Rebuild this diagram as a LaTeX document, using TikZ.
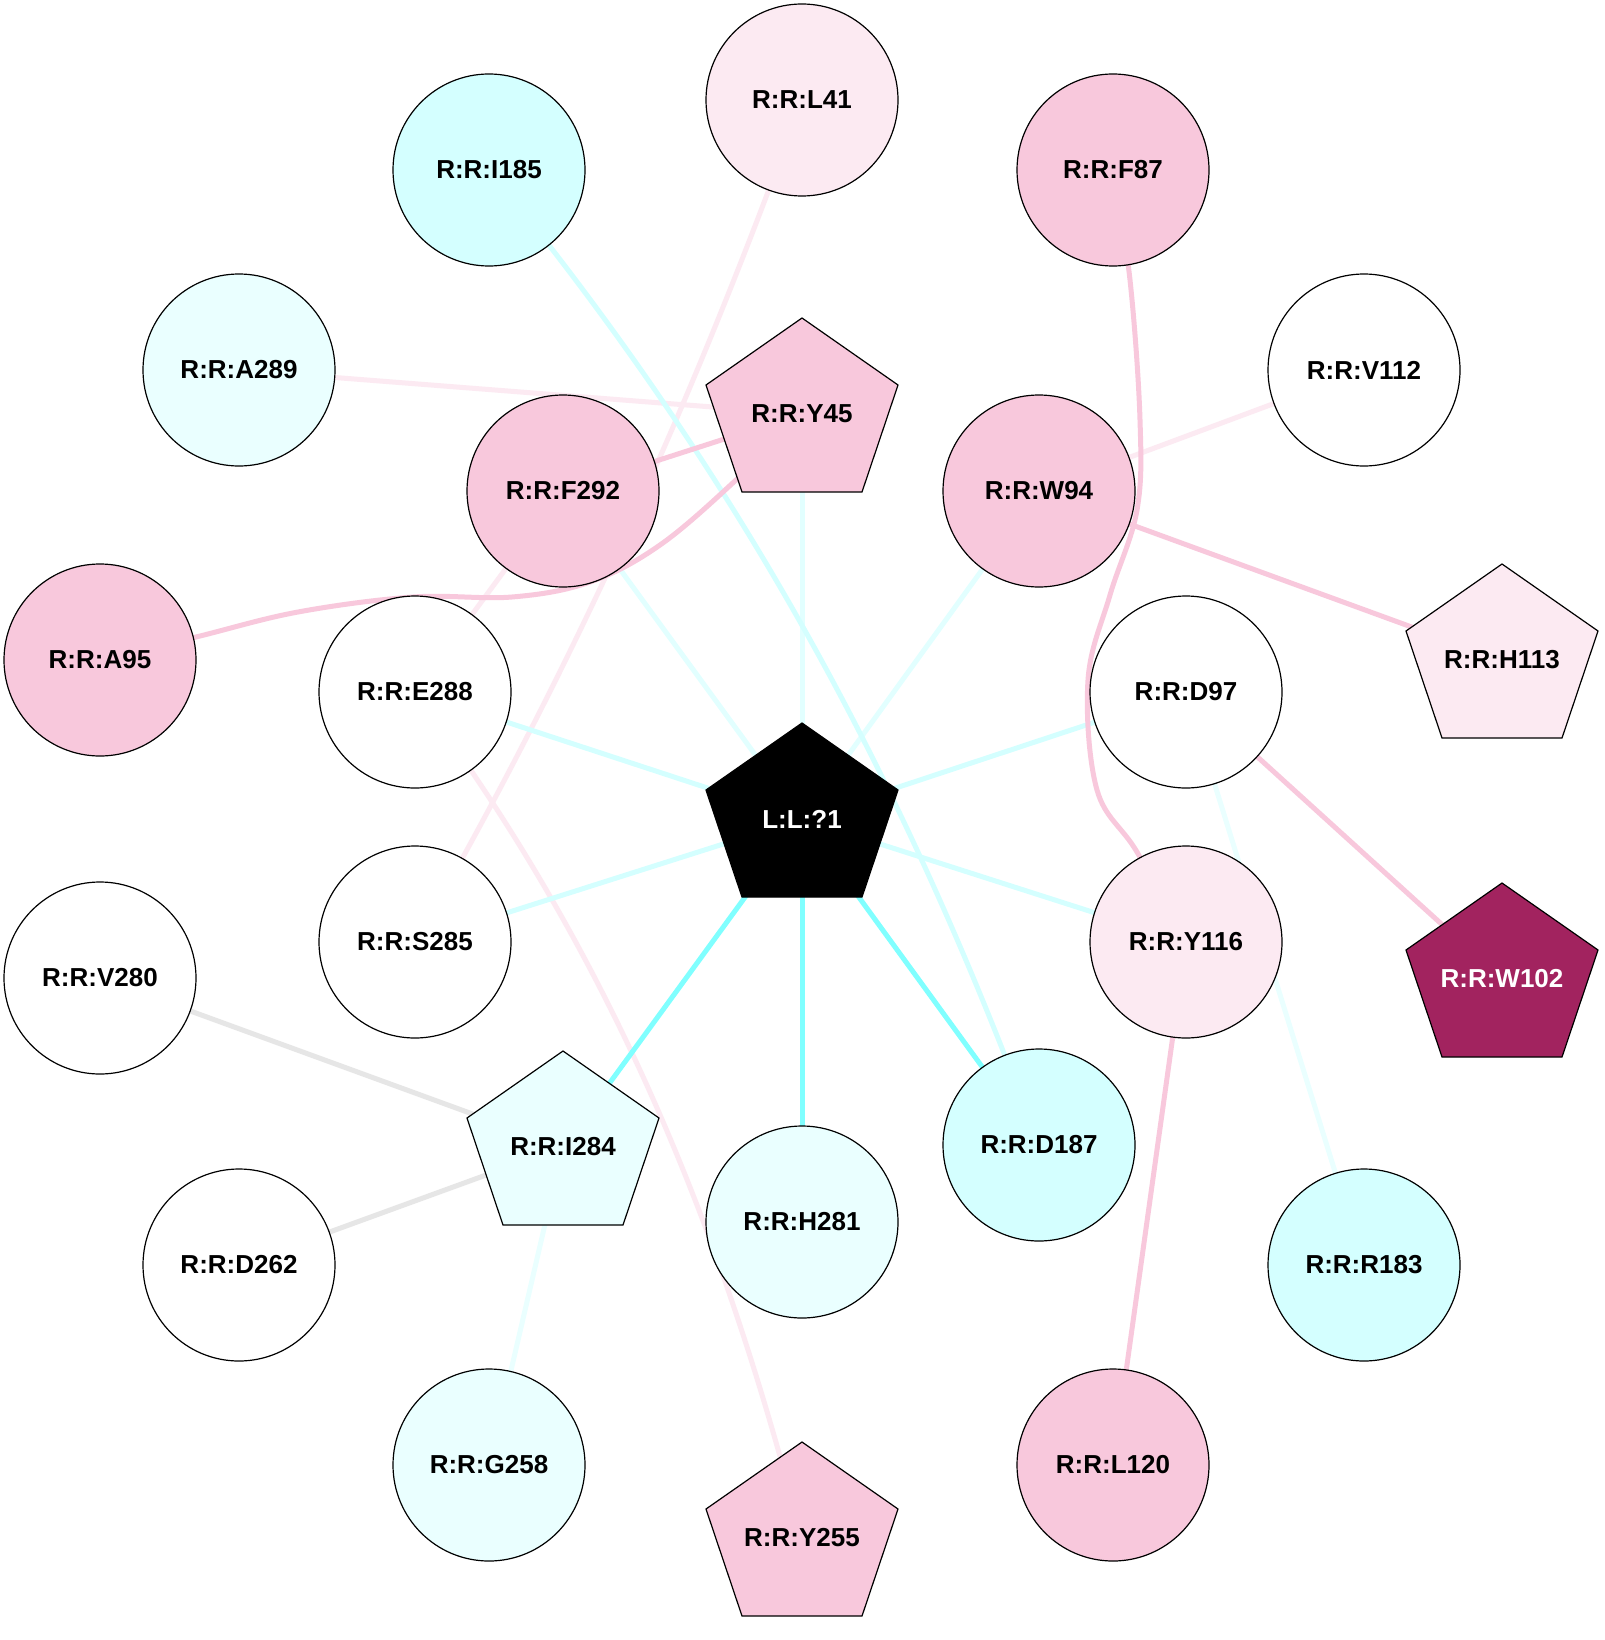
\documentclass[tikz,border=0pt]{standalone}
\usepackage{fontspec}
\setmainfont{Liberation Sans}
\pgfdeclarelayer{bg}
\pgfsetlayers{bg,main}
\definecolor{pk}{HTML}{F8C8DC}
\definecolor{lpk}{HTML}{FCEAF2}
\definecolor{cy}{HTML}{D4FFFF}
\definecolor{lcy}{HTML}{EAFFFF}
\definecolor{ecy}{HTML}{E2FFFF}
\definecolor{scy}{HTML}{80FFFF}
\definecolor{wine}{HTML}{A2235F}
\definecolor{gr}{HTML}{E6E6E6}
\tikzset{
  lblfont/.style={font=\fontsize{26}{30}\selectfont\bfseries},
  res/.style={circle, draw=black, line width=1.2pt, minimum size=192pt, inner sep=0pt, lblfont},
  lbl/.style={inner sep=0pt, lblfont},
  pentpath/.style={draw=black, line width=1.2pt},
  link/.style={line width=5pt},
}
\newcommand\pent[6]{%
  \filldraw[pentpath, fill=#4] (#2,#3-96) -- ++(96,67) -- ++(-36,107) -- ++(-120,0) -- ++(-36,-107) -- cycle;
  \node[lbl, text=#5] (#1) at (#2,#3) {#6};
}
\begin{document}
\begin{tikzpicture}[x=1pt, y=-1pt]
\useasboundingbox (0,0) rectangle (1604,1640);
% circles
\node[res, fill=lpk] (L41) at (802,100) {R:R:L41};
\node[res, fill=cy] (I185) at (489,170) {R:R:I185};
\node[res, fill=pk] (F87) at (1113,170) {R:R:F87};
\node[res, fill=lcy] (A289) at (239,370) {R:R:A289};
\node[res, fill=white] (V112) at (1364,370) {R:R:V112};
\node[res, fill=pk] (F292) at (563,491) {R:R:F292};
\node[res, fill=pk] (W94) at (1039,491) {R:R:W94};
\node[res, fill=pk] (A95) at (100,660) {R:R:A95};
\node[res, fill=white] (E288) at (415,692) {R:R:E288};
\node[res, fill=white] (D97) at (1186,692) {R:R:D97};
\node[res, fill=white] (S285) at (415,942) {R:R:S285};
\node[res, fill=lpk] (Y116) at (1186,942) {R:R:Y116};
\node[res, fill=white] (V280) at (100,978) {R:R:V280};
\node[res, fill=cy] (D187) at (1039,1145) {R:R:D187};
\node[res, fill=lcy] (H281) at (802,1222) {R:R:H281};
\node[res, fill=white] (D262) at (239,1265) {R:R:D262};
\node[res, fill=cy] (R183) at (1364,1265) {R:R:R183};
\node[res, fill=lcy] (G258) at (489,1465) {R:R:G258};
\node[res, fill=pk] (L120) at (1113,1465) {R:R:L120};
% pentagons
\pent{Y45}{802}{414}{pk}{black}{R:R:Y45}
\pent{H113}{1502}{660}{lpk}{black}{R:R:H113}
\pent{L1}{802}{819}{black}{white}{L:L:?1}
\pent{W102}{1502}{979}{wine}{white}{R:R:W102}
\pent{I284}{563}{1147}{lcy}{black}{R:R:I284}
\pent{Y255}{802}{1538}{pk}{black}{R:R:Y255}
% connectors
\begin{pgfonlayer}{bg}
\fill[white] (0,0) rectangle (1604,1640);
\draw[link, lpk] (A289.center) -- (Y45.center);
\draw[link, lpk] (V112.center) -- (W94.center);
\draw[link, lpk] (F292.center) -- (E288.center);
\draw[link, lpk] (L41.center) .. controls (701,380) and (577,662) .. (S285.center);
\draw[link, lpk] (E288.center) .. controls (625,972) and (730,1259) .. (Y255.center);
\draw[link, ecy] (L1.center) -- (Y45.center);
\draw[link, ecy] (L1.center) -- (F292.center);
\draw[link, ecy] (L1.center) -- (W94.center);
\draw[link, lcy] (D97.center) -- (R183.center);
\draw[link, lcy] (I284.center) -- (G258.center);
\draw[link, cy] (L1.center) -- (E288.center);
\draw[link, cy] (L1.center) -- (D97.center);
\draw[link, cy] (L1.center) -- (S285.center);
\draw[link, cy] (L1.center) -- (Y116.center);
\draw[link, cy] (I185.center) .. controls (760,500) and (917,815) .. (D187.center);
\draw[link, gr] (V280.center) -- (I284.center);
\draw[link, gr] (D262.center) -- (I284.center);
\draw[link, pk] (Y45.center) -- (F292.center);
\draw[link, pk] plot[smooth, tension=0.6] coordinates {(Y45.center) (736,480) (660,545) (590,582) (512,597) (413,597) (298,612) (196,637) (A95.center)};
\draw[link, pk] plot[smooth, tension=0.6] coordinates {(F87.center) (1130,280) (1140,420) (1137,510) (1110,595) (1088,680) (1097,790) (1137,852) (Y116.center)};
\draw[link, pk] (W94.center) -- (H113.center);
\draw[link, pk] (D97.center) -- (W102.center);
\draw[link, pk] (Y116.center) -- (L120.center);
\draw[link, scy] (L1.center) -- (I284.center);
\draw[link, scy] (L1.center) -- (H281.center);
\draw[link, scy] (L1.center) -- (D187.center);
\end{pgfonlayer}
\end{tikzpicture}
\end{document}
